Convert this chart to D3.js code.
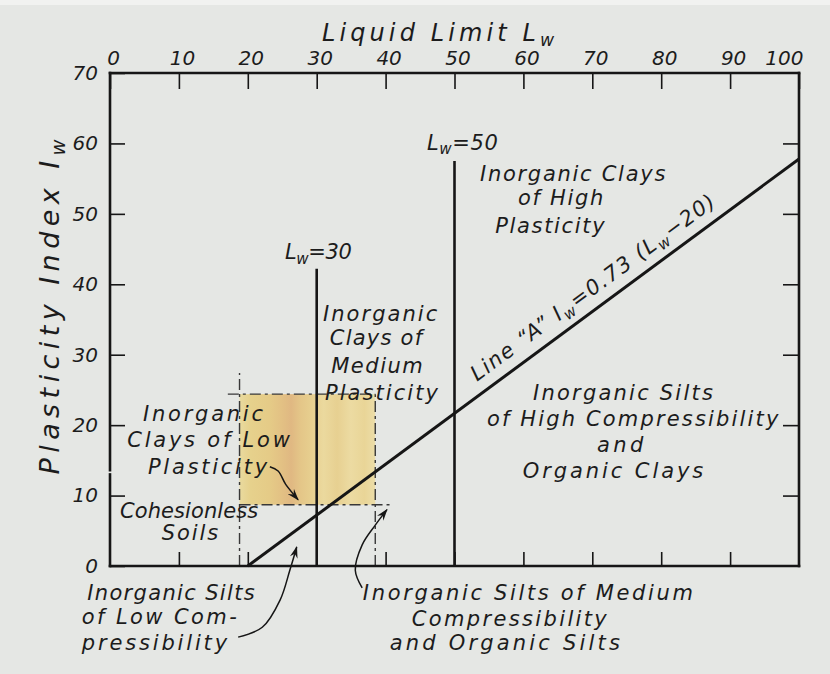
<!DOCTYPE html>
<html>
<head>
<meta charset="utf-8">
<script src="https://cdn.jsdelivr.net/npm/d3@7"></script>
<style>
  html, body { margin: 0; padding: 0; background: #e5e7e4; }
  svg text { font-family: "DejaVu Sans", sans-serif; font-style: italic; fill: #1c1c1c; }
</style>
</head>
<body>
<svg id="chart" width="830" height="674"></svg>
<script>
// ---- chart values (Liquid Limit, Plasticity Index) ----
var xTicks = [0, 10, 20, 30, 40, 50, 60, 70, 80, 90, 100];
var yTicks = [0, 10, 20, 30, 40, 50, 60, 70];
var lineA = [[20, 0], [100, 57.8]];          // I_w = 0.73 (L_w - 20), as drawn
var limitLines = [[30, 42.2], [50, 57.5]];   // L_w value, top of line
var zoneLw = [18.8, 38.5];
var zonePi = [8.7, 24.4];
var zoneGuides = [
  [[18.8, 0], [18.8, 27.4]],
  [[17.1, 24.4], [38.5, 24.4]],
  [[38.5, 0], [38.5, 24.4]],
  [[18.8, 8.7], [41.1, 8.7]]
];
var leftAxisGap = [13.0, 13.6];

// label lines: text, left L_w, centre I_w, right L_w
var regionLabels = [
  ['Inorganic Clays', 53.7, 55.8, 80.6],
  ['of High', 59.2, 52.3, 71.6],
  ['Plasticity', 55.9, 48.4, 71.8],
  ['Inorganic Silts', 61.4, 24.6, 87.5],
  ['of High Compressibility', 54.7, 21.0, 97.0],
  ['and', 70.7, 17.2, 77.4],
  ['Organic Clays', 59.9, 13.6, 86.1],
  ['Inorganic', 30.9, 35.9, 47.5],
  ['Clays of', 31.9, 32.4, 45.3],
  ['Medium', 32.1, 28.5, 45.4],
  ['Plasticity', 31.2, 24.7, 47.6],
  ['Inorganic', 4.8, 21.7, 22.2],
  ['Clays of Low', 2.5, 17.9, 26.1],
  ['Plasticity', 5.5, 14.1, 22.8],
  ['Cohesionless', 1.45, 7.95, 21.5],
  ['Soils', 7.5, 4.7, 15.7],
  ['Inorganic Silts', -3.3, -3.7, 21.0],
  ['of Low Com-', -4.1, -7.2, 18.4],
  ['pressibility', -4.1, -10.8, 17.0],
  ['Inorganic Silts of Medium', 36.7, -3.8, 84.6],
  ['Compressibility', 43.8, -7.4, 72.1],
  ['and Organic Silts', 40.6, -10.9, 74.0],
  ['L_W=30', 25.4, 44.6, 35.1],
  ['L_W=50', 46.0, 60.2, 56.3]
];

var arrows = [
  [[23.2, 14.1], [24.4, 13.5], [25.5, 11.6], [27.3, 9.4]],
  [[18.6, -10.1], [22.1, -8.7], [24.7, -4.8], [26.1, -0.6], [27.1, 2.7]],
  [[36.6, -3.1], [35.6, -0.6], [36.6, 3.0], [38.5, 5.8], [40.2, 8.0]]
];

var lineALabel = 'Line \u201CA\u201D I_W=0.73 (L_W\u221220)';
var lineALabelStart = 54.3;

// ---- layout ----
var ink = '#161616';
var svg = d3.select('#chart');
var x = d3.scaleLinear().domain([0, 100]).range([110, 799]);
var y = d3.scaleLinear().domain([0, 70]).range([566, 73]);

svg.append('rect').attr('width', 830).attr('height', 5).attr('fill', '#f1f2f0');

var defs = svg.append('defs');
var grad = defs.append('linearGradient').attr('id', 'zoneFill')
  .attr('x1', 0).attr('x2', 1).attr('y1', 0).attr('y2', 0);
[[0, '#e9da9f'], [0.08, '#e6d18c'], [0.22, '#e5cb87'], [0.3, '#e3c284'],
 [0.38, '#e0b882'], [0.45, '#e4c688'], [0.53, '#e7cf8f'], [0.62, '#ebd99e'],
 [0.72, '#e7d091'], [0.82, '#ecdba2'], [0.92, '#e9d597'], [1, '#ecdda8']]
  .forEach(function (s) {
    grad.append('stop').attr('offset', s[0]).attr('stop-color', s[1]);
  });

defs.append('marker')
  .attr('id', 'arrow')
  .attr('viewBox', '0 0 12 8')
  .attr('refX', 11).attr('refY', 4)
  .attr('markerWidth', 12).attr('markerHeight', 8)
  .attr('markerUnits', 'userSpaceOnUse')
  .attr('orient', 'auto')
  .append('path')
  .attr('d', 'M0,0L12,4L0,8L4,4Z')
  .attr('fill', ink);

// shaded zone
svg.append('rect')
  .attr('x', x(zoneLw[0]))
  .attr('y', y(zonePi[1]))
  .attr('width', x(zoneLw[1]) - x(zoneLw[0]))
  .attr('height', y(zonePi[0]) - y(zonePi[1]))
  .attr('fill', 'url(#zoneFill)');

var line = d3.line().x(function (d) { return x(d[0]); }).y(function (d) { return y(d[1]); });

svg.append('g').selectAll('path')
  .data(zoneGuides)
  .enter().append('path')
  .attr('d', line)
  .attr('fill', 'none')
  .attr('stroke', '#383838')
  .attr('stroke-width', 1.4)
  .attr('stroke-dasharray', '11,4,3,4');

// axes (ticks point inwards)
function styleAxis(g) {
  g.select('.domain').remove();
  g.selectAll('.tick line').attr('stroke', ink).attr('stroke-width', 1.6);
  g.attr('font-family', null).attr('font-size', 20);
  g.selectAll('text').attr('fill', '#1c1c1c');
}

var topAxis = svg.append('g')
  .attr('transform', 'translate(0,' + y(70) + ')')
  .call(d3.axisTop(x).tickValues(xTicks).tickSizeInner(-16).tickSizeOuter(0).tickPadding(8))
  .call(styleAxis);
topAxis.selectAll('text').attr('dx', 3);
topAxis.selectAll('.tick').filter(function (d) { return d === 100; })
  .select('text').attr('text-anchor', 'end').attr('dx', 4);

svg.append('g')
  .attr('transform', 'translate(0,' + y(0) + ')')
  .call(d3.axisBottom(x).tickValues(xTicks.slice(1, -1)).tickSizeInner(-14).tickSizeOuter(0).tickFormat(''))
  .call(styleAxis);

svg.append('g')
  .attr('transform', 'translate(' + x(0) + ',0)')
  .call(d3.axisLeft(y).tickValues(yTicks).tickSizeInner(-15).tickSizeOuter(0).tickPadding(12))
  .call(styleAxis);

svg.append('g')
  .attr('transform', 'translate(' + x(100) + ',0)')
  .call(d3.axisRight(y).tickValues(yTicks.slice(1, -1)).tickSizeInner(-16).tickSizeOuter(0).tickFormat(''))
  .call(styleAxis);

// frame, left side broken as in the drawing
var frame = [
  [[0, 70], [100, 70]],
  [[100, 70], [100, 0]],
  [[0, 0], [100, 0]],
  [[0, 70], [0, leftAxisGap[1]]],
  [[0, leftAxisGap[0]], [0, 0]]
];
svg.append('g').selectAll('path')
  .data(frame)
  .enter().append('path')
  .attr('d', line)
  .attr('stroke', ink)
  .attr('stroke-width', 2.6)
  .attr('stroke-linecap', 'square');

// L_w limits and line A
svg.append('g').selectAll('path')
  .data(limitLines)
  .enter().append('path')
  .attr('d', function (d) { return line([[d[0], 0], [d[0], d[1]]]); })
  .attr('stroke', ink)
  .attr('stroke-width', 2.6);

svg.append('path')
  .attr('d', line(lineA))
  .attr('stroke', ink)
  .attr('stroke-width', 3);

// arrows
var curve = d3.line().x(function (d) { return x(d[0]); }).y(function (d) { return y(d[1]); })
  .curve(d3.curveCatmullRom);
svg.append('g').selectAll('path')
  .data(arrows)
  .enter().append('path')
  .attr('d', curve)
  .attr('fill', 'none')
  .attr('stroke', ink)
  .attr('stroke-width', 1.5)
  .attr('marker-end', 'url(#arrow)');

// text with subscript w
function fillText(sel, str, size) {
  var parts = str.split(/(_W)/);
  var lowered = false;
  parts.forEach(function (p) {
    if (p === '_W') {
      sel.append('tspan').attr('font-size', size * 0.72).attr('dy', size * 0.22).text('w');
      lowered = true;
    } else if (p) {
      var t = sel.append('tspan').text(p);
      if (lowered) { t.attr('dy', -size * 0.22); lowered = false; }
    }
  });
}

var labelSize = 21;
svg.append('g').selectAll('text')
  .data(regionLabels)
  .enter().append('text')
  .attr('x', function (d) { return x(d[1]); })
  .attr('y', function (d) { return y(d[2]) + 7.5; })
  .attr('font-size', labelSize)
  .attr('textLength', function (d) { return x(d[3]) - x(d[1]); })
  .attr('lengthAdjust', 'spacing')
  .each(function (d) { fillText(d3.select(this), d[0], labelSize); });

// label along line A
var angle = Math.atan2(y(lineA[1][1]) - y(lineA[0][1]), x(lineA[1][0]) - x(lineA[0][0]));
var slopePi = (lineA[1][1] - lineA[0][1]) / (lineA[1][0] - lineA[0][0]);
var ax = x(lineALabelStart), ay = y(slopePi * (lineALabelStart - lineA[0][0]));
var off = 12;
var lA = svg.append('text')
  .attr('transform', 'translate(' + (ax + off * Math.sin(angle)) + ',' + (ay - off * Math.cos(angle)) + ') rotate(' + (angle * 180 / Math.PI) + ')')
  .attr('font-size', labelSize)
  .attr('textLength', 298)
  .attr('lengthAdjust', 'spacing');
fillText(lA, lineALabel, labelSize);

// axis titles
var xt = svg.append('text')
  .attr('x', 322).attr('y', 41)
  .attr('font-size', 24)
  .attr('textLength', 232)
  .attr('lengthAdjust', 'spacing');
fillText(xt, 'Liquid Limit L_W', 24);

var yt = svg.append('text')
  .attr('transform', 'translate(59,307) rotate(-90)')
  .attr('text-anchor', 'middle')
  .attr('font-size', 27)
  .attr('textLength', 335)
  .attr('lengthAdjust', 'spacing');
fillText(yt, 'Plasticity Index I_W', 27);
</script>
</body>
</html>
